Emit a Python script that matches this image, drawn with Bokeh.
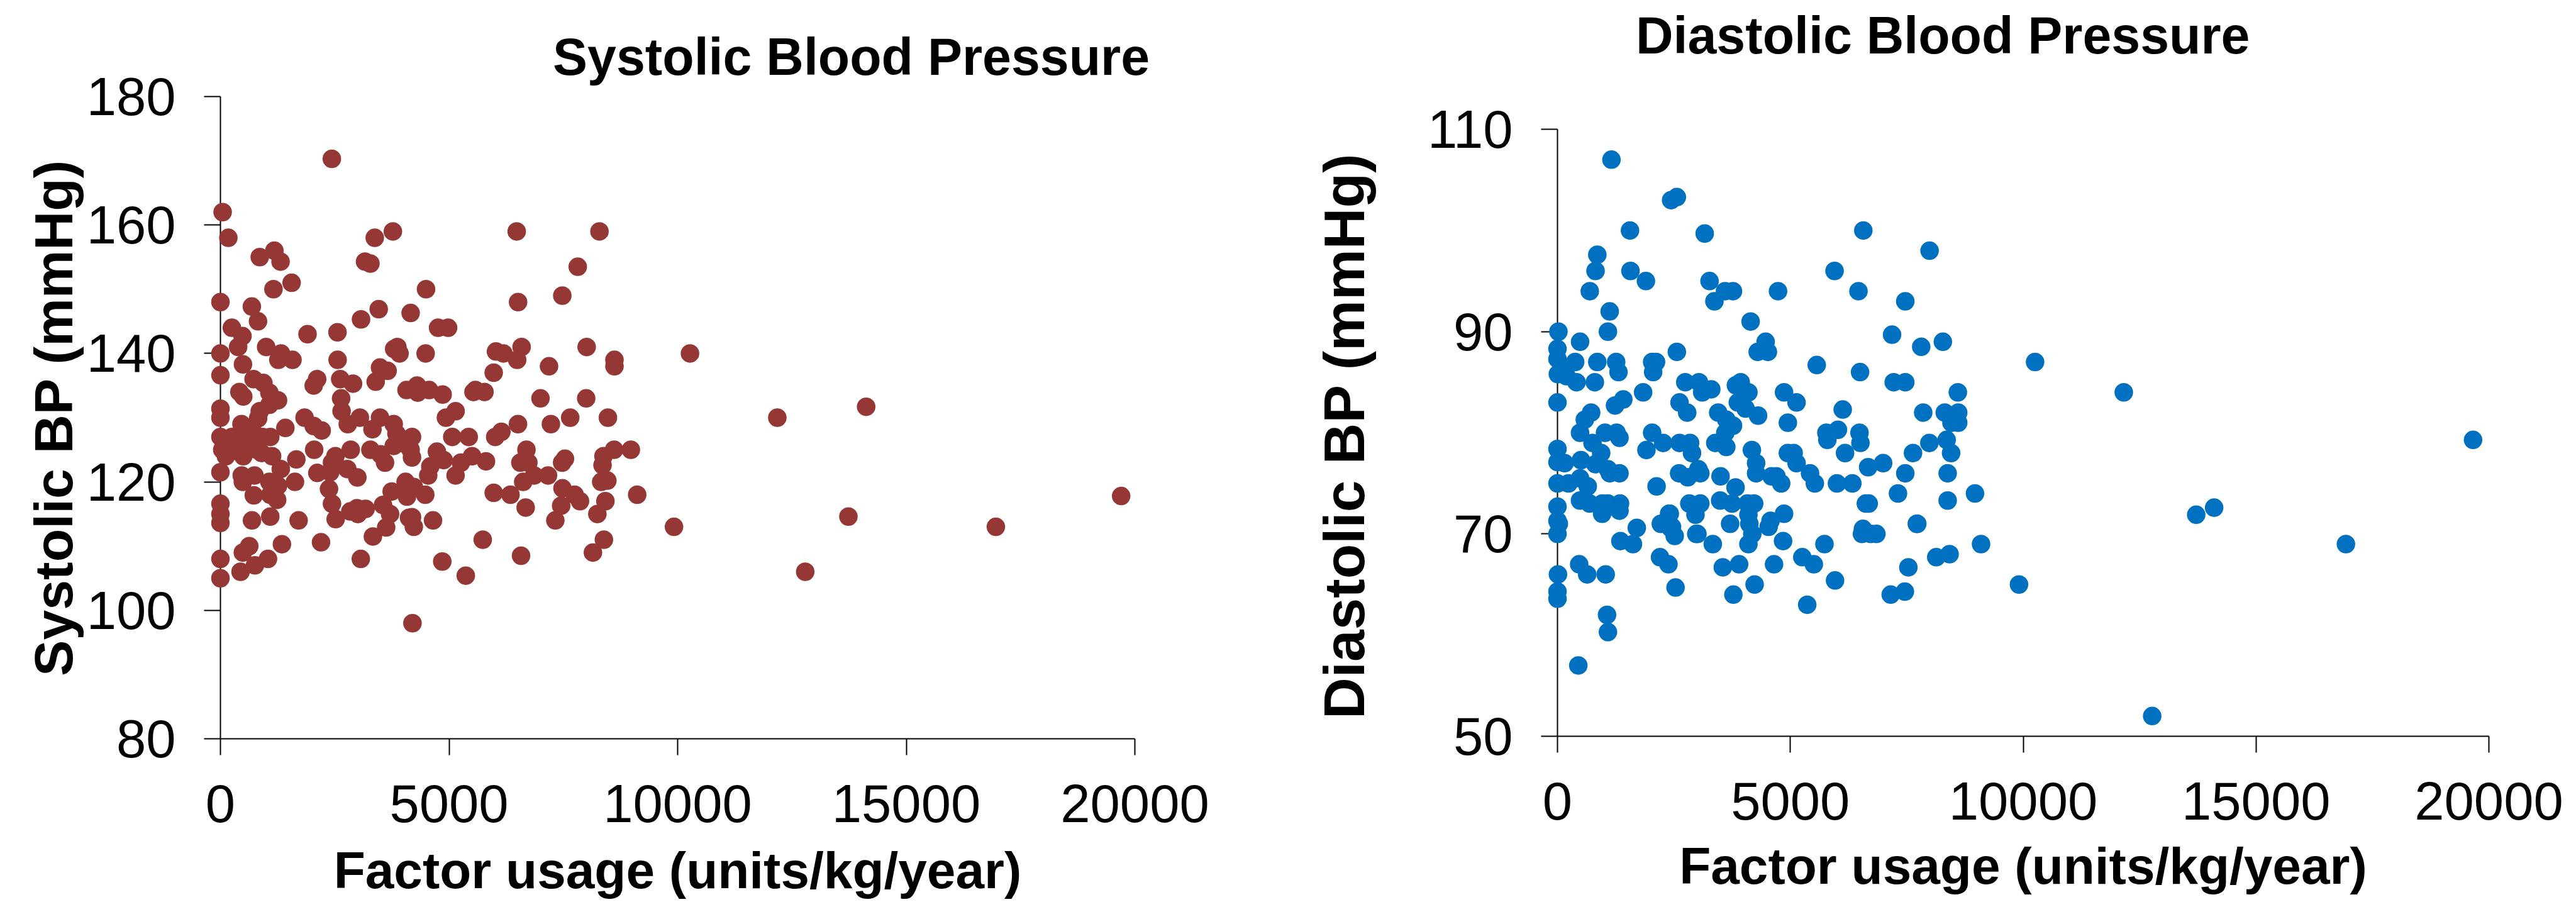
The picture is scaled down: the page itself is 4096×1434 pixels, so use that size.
from math import pi
from bokeh.plotting import figure
from bokeh.layouts import row
from bokeh.embed import file_html
from bokeh.resources import INLINE
from bokeh.models import FixedTicker
from bokeh.core.properties import value

sys_x = [2437, 48, 173, 860, 1180, 1315, 3375, 3772, 3163, 3280,
         6480, 8290, 7815, 1160, 1557, 4497, 0, 687, 6510, 7477,
         3462, 822, 3075, 4160, 250, 483, 1905, 2560, 4760, 4980,
         387, 1000, 1325, 1267, 1576, 0, 3870, 3800, 3917, 4488,
         2563, 6026, 6190, 6587, 6490, 8010, 7187, 8618, 8618, 10270,
         0, 493, 3490, 3656, 5977, 3395,
         2115, 2040, 2620, 2900, 2640, 2650, 2785, 3050, 3325, 3490,
         3790, 4070, 4300, 4315, 4565, 725, 940, 1070, 415, 500,
         1260, 1070, 860, 825, 460, 1420, 1840, 2040, 2215, 0,
         0, 0, 40, 120, 500, 415, 800, 1090, 920, 710,
         670, 1130, 1660, 2050, 2515, 2850, 3280, 3500, 3600, 3790,
         4190, 4000, 4160, 4190, 3850, 0, 465, 745, 490, 1320,
         1630, 1070, 1260, 730, 1090, 1240, 2120, 2440, 2375, 2440,
         2400, 2775, 2995, 3745, 4050, 4080, 4230, 4480, 4735, 4590,
         4545, 0, 0, 0, 690, 1090, 1710, 2520, 2840, 2985,
         3005, 3175, 3555, 3710, 4125, 4190, 4230, 4650, 3625, 3335,
         630, 490, 1345, 2200, 755, 1040, 440, 0, 0, 3070,
         200, 300, 250, 600, 900,
         5535, 5577, 5775, 4860, 7000, 8000, 5143, 4932, 7228, 7650,
         8475, 6508, 6145, 6010, 5071, 5430, 4882, 6693, 6560, 6735,
         5505, 5260, 5808, 5143, 6862, 7165, 6622, 7536, 7473, 8378,
         8610, 8977, 8357, 8328, 8463, 7481, 7746, 7864, 7452, 7325,
         8420, 8244, 5977, 6344, 6676, 9115, 5737, 8387, 8147, 6575,
         4852, 5366,
         12180, 14123, 19700, 16960, 13735, 12790, 9920, 4200]
sys_y = [170.3, 162, 158, 155, 156, 154.3, 158, 159, 154.3, 154,
         159, 159, 153.5, 150, 151, 150, 148, 147.3, 148, 149,
         146.9, 145, 145.3, 146.3, 144, 142.7, 143, 143.3, 144, 144,
         141, 141, 140, 139, 139, 140, 141, 140.7, 140, 140,
         139, 140.3, 140, 141, 139, 141, 138, 139, 138, 140,
         136.6, 138.3, 137.8, 137.3, 137, 135.6,
         136, 135, 136, 135.3, 133, 131, 129, 130, 128.2, 130,
         129, 134.3, 135, 133.9, 134.3, 136, 135.4, 133.9, 134, 133.3,
         132.7, 132, 131, 129.9, 129, 128.4, 130, 128.7, 128, 131.4,
         130, 127, 125, 124, 124, 126.5, 125, 127, 127, 127.8,
         125.6, 124, 123.5, 125, 124, 125, 125, 124.3, 123, 125.6,
         127, 126, 125, 123.8, 127.5, 121.5, 121, 121, 120, 122,
         120, 120, 119.4, 117.9, 118, 117.2, 121.4, 123, 118.9, 116.6,
         121.5, 122, 120.7, 118.5, 120, 117.7, 119.2, 118, 124.7, 122.4,
         121, 116.6, 115, 113.6, 114, 114.6, 114, 114.2, 115.4, 115.9,
         115, 115.8, 116.4, 115, 114.4, 114.5, 113, 114, 112.9, 111.5,
         110, 109, 110.3, 110.6, 107, 108, 106, 108, 105, 108,
         126, 125, 127, 126.5, 124.5,
         134, 134.3, 134, 133.6, 133, 133, 131, 130, 129, 130,
         130, 129, 127.8, 127, 127, 127, 123.4, 125, 123, 123,
         124, 123, 123.2, 121, 121, 121, 120, 123.6, 123, 124,
         125, 125, 122.6, 120, 120.2, 119, 118, 117, 116.3, 114,
         117, 115, 118.3, 118, 116, 118, 111, 111, 109, 108.5,
         107.6, 105.4,
         130, 131.7, 117.8, 113, 114.6, 106, 113, 98]

dia_x = [1159, 2440, 2563, 1557, 3161, 6567, 855, 817, 1567, 1899,
         7990, 5950, 3265, 694, 3597, 3768, 4736, 6463, 3370, 7468,
         1121, 4147, 1083, 20, 7184, 4470, 485, 8275, 7810, 4299,
         4518, 2563,
         0, 0, 380, 855, 1260, 1310, 8, 194, 409, 802,
         153, 2033, 2116, 2054, 0, 1413, 1236, 1839, 2744, 3038,
         3108, 3302, 3934, 3831, 4100, 3872, 2620, 2785, 3451, 4038,
         4307, 3625, 3769, 3604, 723, 587, 484, 1021, 1269, 1331,
         752, 2033, 1910, 2269, 2620, 2847, 2889, 3389, 3625, 0,
         4174, 938, 504, 0, 153, 814, 1083, 1124, 1331, 4265,
         3025, 3067, 2612, 2798, 4265, 3501, 4596, 3823, 2128, 0,
         236, 484, 650, 484, 690, 959, 1083, 1343, 959, 1331,
         3493, 3749, 2831, 3067, 2963, 4079, 4224, 4100, 0, 0,
         29, 0, 2397, 2219, 2426, 2517, 3005, 3707, 4120, 4534,
         4183, 1703, 1351, 1620, 3335, 4100,
         5567, 6497, 7220, 7468, 4865, 5133, 6125, 8597, 7853, 8316,
         8605, 8605, 8460, 4947, 5774, 6022, 5795, 6485, 6505, 6175,
         8357, 7985, 8452, 7634, 4947, 5071, 5133, 5423, 5526, 4803,
         4700, 6001, 6332, 6671, 6993, 7468, 8378, 7311, 8378, 8965,
         6621, 6683, 7716, 4865, 4575, 4844, 5733, 6559, 6538, 6724,
         6848, 9095, 8419, 8133,
         2202, 2383, 466, 637, 1035, 10, 0, 0, 1064, 1083,
         447, 2535, 3550, 3900, 4650, 4233, 3777, 5257, 5504, 5960,
         5362, 7155, 7459, 7534, 7725, 2980, 2411, 2459,
         10255, 12160, 14100, 13715, 19660, 16930, 12770, 9910]
dia_y = [107, 103, 103.3, 100, 99.7, 100, 97.6, 96, 96, 95,
         98, 96, 95, 94, 94, 94, 94, 94, 93, 93,
         92, 91, 90, 90, 89.7, 89, 89, 89, 88.5, 88,
         88, 88,
         88.3, 87.3, 87, 87, 87, 86, 85.8, 85.6, 85, 85,
         86.4, 87, 87, 86, 83, 83.3, 82.7, 84, 85, 85,
         84, 84.3, 85, 84.7, 84, 83, 83, 82, 82, 82.4,
         81.7, 81.3, 80.7, 80, 82, 81.3, 80, 80, 80, 79.5,
         79, 80, 78.3, 79, 79, 79, 78, 79, 78.6, 78.4,
         78.3, 78, 77.3, 77.1, 77, 76.9, 76.4, 76, 76, 77,
         76.4, 76, 76, 75.6, 76, 75.7, 75.7, 74.6, 74.7, 75,
         75, 75.5, 74.7, 73.3, 73, 73, 73, 73, 72, 72.3,
         73.3, 73, 73, 73, 71.9, 73, 73, 71.9, 72.7, 71.3,
         71, 70, 72, 71, 70.6, 69.8, 70, 71, 71, 70.7,
         70, 70.6, 69.3, 69, 69, 69,
         86.7, 86, 85, 85, 84, 83, 82.3, 84, 82, 82,
         82, 81, 81, 81, 80, 80.3, 79.3, 80, 79, 78,
         79.3, 79, 78, 78, 78, 78, 77, 76, 75, 75,
         75.7, 75, 75, 76.6, 77, 76, 76, 74, 73.3, 74,
         73, 73, 71, 72, 71.3, 69.3, 69, 70.5, 70, 70,
         70, 69, 68, 67.7,
         67.7, 67, 67, 66, 66, 66, 64.3, 63.6, 62, 60.3,
         57, 64.7, 66.7, 67, 67, 65, 64, 67.7, 67, 65.4,
         63, 64, 64.3, 66.7, 71, 70, 72, 70.7,
         87, 84, 72.6, 71.9, 79.3, 69, 52, 65]

x_ticks = [0, 5000, 10000, 15000, 20000]
sys_ticks = [80, 100, 120, 140, 160, 180]
dia_ticks = [50, 70, 90, 110]
x_label = "Factor usage (units/kg/year)"
FONT = "Liberation Sans"
H = 1430
TOP = 153


def panel(xs, ys, color, title, yticks, w, fw, fh, y_end, left, tx, ty, xstand):
    p = figure(width=w, height=H, frame_width=fw, frame_height=fh,
               x_range=(0, 20000), y_range=(yticks[0], y_end),
               output_backend="svg", toolbar_location=None,
               min_border_left=left, min_border_top=TOP,
               min_border_right=w - left - fw, min_border_bottom=H - TOP - fh)
    p.grid.visible = False
    p.outline_line_color = None
    p.scatter(xs, ys, size=29.5, color=color, line_color=None, level="overlay")
    p.text(x=[tx], y=[ty], text=[title], level="overlay",
           text_font=value(FONT), text_font_size="82.5px", text_font_style="bold",
           text_color="black", text_baseline="alphabetic")
    for ax, ticks in ((p.xaxis[0], x_ticks), (p.yaxis[0], yticks)):
        ax.ticker = FixedTicker(ticks=ticks)
        ax.bounds = (ticks[0], ticks[-1])
        ax.axis_line_color = "black"
        ax.axis_line_width = 2
        ax.major_tick_line_color = "black"
        ax.major_tick_line_width = 2
        ax.major_tick_out = 26
        ax.major_tick_in = 0
        ax.minor_tick_out = 0
        ax.minor_tick_in = 0
        ax.major_label_text_font = FONT
        ax.major_label_text_font_size = "85px"
        ax.major_label_text_color = "black"
        ax.axis_label_text_font = FONT
        ax.axis_label_text_font_style = "bold"
        ax.axis_label_text_color = "black"
    p.xaxis[0].axis_label = x_label
    p.xaxis[0].axis_label_text_font_size = "82px"
    p.xaxis[0].major_label_standoff = 47
    p.xaxis[0].axis_label_standoff = xstand
    p.yaxis[0].major_label_standoff = 45
    return p


p1 = panel(sys_x, sys_y, "#953735", "Systolic Blood Pressure",
           sys_ticks, 2008, 1454, 1021, 180, 350, 7270, 186.2, 28)
p1.yaxis[0].axis_label = "Systolic BP (mmHg)"
p1.yaxis[0].axis_label_text_font_size = "86px"
p1.yaxis[0].axis_label_standoff = 2

p2 = panel(dia_x, dia_y, "#0070C0", "Diastolic Blood Pressure",
           dia_ticks, 2088, 1481, 1017, 113.24, 468, 1680, 119.33, 25)
p2.text(x=[-4578], y=[79.7], text=["Diastolic BP (mmHg)"], level="overlay", angle=pi / 2,
        text_font=value(FONT), text_font_size="91px", text_font_style="bold",
        text_color="black", text_align="center", text_baseline="middle")

open("out.html", "w").write(file_html(row(p1, p2, spacing=0), INLINE))
